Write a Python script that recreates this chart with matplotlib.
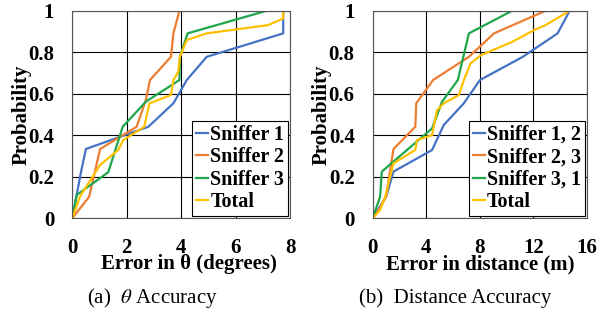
import matplotlib
matplotlib.use("Agg")
import matplotlib.pyplot as plt

# Left panel: error in theta (degrees)
s1_x = [0, 0.31, 0.50, 2.79, 3.71, 4.20, 4.93, 7.74, 7.74]
s1_y = [0, 0.217, 0.334, 0.441, 0.554, 0.666, 0.778, 0.891, 1.0]
s2_x = [0, 0.62, 1.02, 2.36, 2.70, 2.85, 3.62, 3.71, 3.93]
s2_y = [0, 0.104, 0.334, 0.441, 0.57, 0.666, 0.778, 0.891, 1.0]
s3_x = [0, 0.16, 1.32, 1.85, 2.70, 3.93, 3.95, 4.23, 7.13]
s3_y = [0, 0.112, 0.222, 0.441, 0.562, 0.666, 0.778, 0.891, 1.0]
tot_x = [0, 0.28, 1.02, 1.69, 1.87, 2.64, 2.83, 3.62, 3.71, 3.89, 3.95, 4.20, 4.93, 7.19, 7.74, 7.74]
tot_y = [0, 0.104, 0.257, 0.33, 0.377, 0.441, 0.554, 0.594, 0.666, 0.706, 0.778, 0.859, 0.891, 0.931, 0.963, 1.0]

# Right panel: error in distance (m)
p12_x = [0, 1.0, 1.55, 4.43, 5.3, 6.8, 8.0, 11.2, 13.8, 14.7]
p12_y = [0, 0.104, 0.225, 0.329, 0.449, 0.554, 0.666, 0.778, 0.891, 1.0]
p23_x = [0, 0.55, 1.0, 1.55, 3.18, 3.25, 4.5, 7.18, 9.05, 12.9]
p23_y = [0, 0.05, 0.104, 0.334, 0.441, 0.554, 0.666, 0.778, 0.891, 1.0]
p31_x = [0, 0.55, 0.68, 4.43, 5.18, 6.35, 7.18, 10.4]
p31_y = [0, 0.104, 0.225, 0.433, 0.562, 0.666, 0.891, 1.0]
ptot_x = [0, 0.55, 0.93, 1.3, 1.55, 3.18, 3.3, 4.43, 4.8, 5.3, 6.43, 6.8, 7.3, 8.05, 10.4, 12.05, 12.9, 14.7]
ptot_y = [0, 0.04, 0.104, 0.2, 0.265, 0.329, 0.377, 0.401, 0.52, 0.554, 0.594, 0.666, 0.746, 0.785, 0.85, 0.907, 0.931, 1.0]

left_labels = ["Sniffer 1", "Sniffer 2", "Sniffer 3", "Total"]
right_labels = ["Sniffer 1, 2", "Sniffer 2, 3", "Sniffer 3, 1", "Total"]
colors = ["#4472C4", "#ED7D31", "#1FA64A", "#FFC000"]

plt.rcParams['font.family'] = ['Liberation Serif', 'DejaVu Serif']
plt.rcParams['mathtext.fontset'] = 'stix'

fig = plt.figure(figsize=(6.09, 3.13), dpi=100)
ax1 = fig.add_axes([0.1187, 0.3026, 0.358, 0.663])
ax2 = fig.add_axes([0.612, 0.3026, 0.352, 0.663])

for ax, series, labels, xmax, xticks, xlabel, xlab_shift, caption, capx in [
    (ax1, [(s1_x, s1_y), (s2_x, s2_y), (s3_x, s3_y), (tot_x, tot_y)], left_labels, 8,
     [0, 2, 4, 6, 8], "Error in θ (degrees)", 8, r"(a)  $\theta$ Accuracy", 152 / 609),
    (ax2, [(p12_x, p12_y), (p23_x, p23_y), (p31_x, p31_y), (ptot_x, ptot_y)], right_labels, 16,
     [0, 4, 8, 12, 16], "Error in distance (m)", 0, "(b)  Distance Accuracy", 455 / 609),
]:
    for (x, y), lab, c in zip(series, labels, colors):
        ax.plot(x, y, color=c, lw=1.6, label=lab)
    ax.set_xlim(0, xmax)
    ax.set_ylim(0, 1)
    ax.set_xticks(xticks)
    ax.set_yticks([0, 0.2, 0.4, 0.6, 0.8, 1.0])
    ax.set_yticklabels(["0", "0.2", "0.4", "0.6", "0.8", "1"])
    ax.grid(True, color="black", lw=0.8)
    ax.set_axisbelow(True)
    for sp in ax.spines.values():
        sp.set_color("#555555")
        sp.set_linewidth(0.8)
    ax.tick_params(axis="x", length=0, labelsize=15, pad=14)
    ax.tick_params(axis="y", length=0, labelsize=15, pad=13)
    for t in ax.get_xticklabels() + ax.get_yticklabels():
        t.set_fontweight("bold")
    w_px = ax.get_position().width * 609
    h_px = ax.get_position().height * 313
    ax.set_xlabel(xlabel, fontsize=15, fontweight="bold")
    ax.xaxis.set_label_coords(0.5 + xlab_shift / w_px, -36 / h_px)
    ax.set_ylabel("Probability", fontsize=15, fontweight="bold")
    ax.yaxis.set_label_coords(-41 / w_px, 0.5)
    leg = ax.legend(loc="lower right", prop={'weight': 'bold', 'size': 14.5},
                    handlelength=0.6, handletextpad=0.1, borderpad=0.2, labelspacing=0.12,
                    borderaxespad=0.1, fancybox=False, framealpha=1, edgecolor="black")
    leg.get_frame().set_linewidth(0.8)
    fig.text(capx, 1 - 298 / 313, caption, ha="center", va="center", fontsize=15)

fig.savefig("out.png", dpi=100)
